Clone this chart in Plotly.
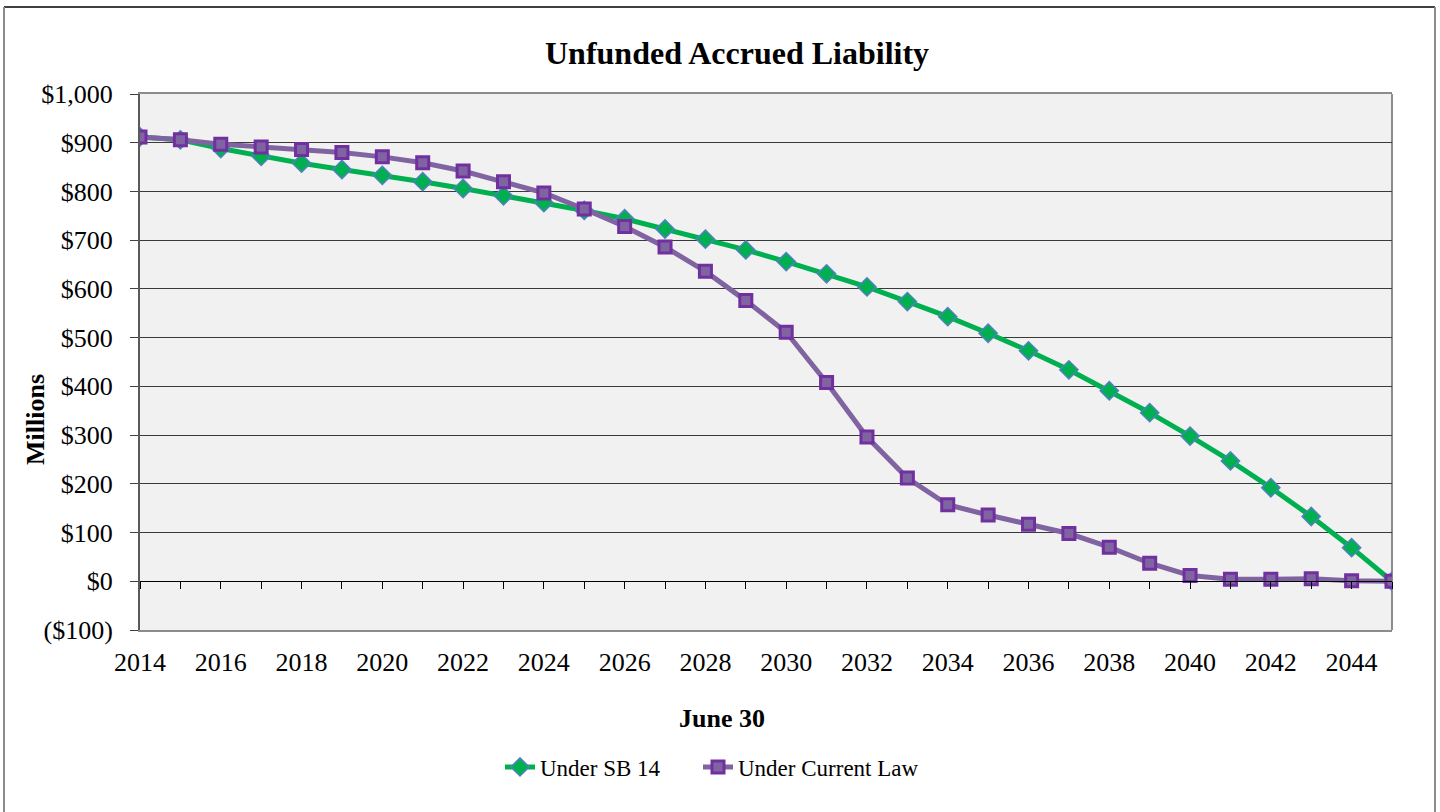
import plotly.graph_objects as go

years = list(range(2014, 2046))
sb14 = [912, 906, 888, 872, 858, 845, 833, 820, 806, 791, 777, 761, 744, 723, 702, 680,
        656, 631, 604, 574, 543, 509, 473, 434, 391, 346, 298, 247, 192, 133, 69, 0]
current_law = [912, 906, 897, 891, 886, 880, 871, 859, 842, 820, 797, 764, 728, 686, 636, 576,
               511, 408, 296, 212, 157, 136, 117, 98, 70, 37, 12, 4, 4, 5, 1, 0]
x_tick_vals = list(range(2014, 2045, 2))
y_tick_vals = [-100, 0, 100, 200, 300, 400, 500, 600, 700, 800, 900, 1000]
y_tick_text = ["($100)", "$0", "$100", "$200", "$300", "$400", "$500", "$600", "$700",
               "$800", "$900", "$1,000"]

FONT = "Liberation Serif, Times New Roman, serif"

L, R, T, B = 140, 1392, 94, 630
W, H = 1440, 812
pw, ph = R - L, B - T

def px(p):
    return (p - L) / pw

def py(q):
    return (B - q) / ph

fig = go.Figure()
fig.add_trace(go.Scatter(
    x=years, y=sb14, name="Under SB 14", mode="lines+markers",
    line=dict(color="#00b050", width=5),
    marker=dict(symbol="diamond", size=14, color="#00b050",
                line=dict(color="#4f81bd", width=1.5)),
    xaxis="x", yaxis="y", legend="legend"))
fig.add_trace(go.Scatter(
    x=years, y=current_law, name="Under Current Law", mode="lines+markers",
    line=dict(color="#8064a2", width=5),
    marker=dict(symbol="square", size=12, color="#8064a2",
                line=dict(color="#7030a0", width=3)),
    xaxis="x2", yaxis="y", legend="legend2"))

ymin, ymax = -100, 1000
zero_pos = (0 - ymin) / (ymax - ymin)

legend_common = dict(orientation="h", yanchor="middle", xanchor="left",
                     font=dict(family=FONT, size=23, color="black"),
                     bgcolor="rgba(0,0,0,0)", itemwidth=30)

fig.update_layout(
    width=W, height=H,
    margin=dict(l=L, r=W - R, t=T, b=H - B, pad=0),
    paper_bgcolor="white", plot_bgcolor="#f1f1f1",
    font=dict(family=FONT, size=26, color="black"),
    showlegend=True,
    legend=dict(x=px(500), y=py(767), **legend_common),
    legend2=dict(x=px(698), y=py(767), **legend_common),
    xaxis=dict(range=[2014, 2045], tickmode="array", tickvals=x_tick_vals,
               ticktext=[str(v) for v in x_tick_vals], ticks="", showgrid=False,
               zeroline=False, showline=True, linecolor="#8c8c8c", linewidth=2,
               mirror=True, ticklabelstandoff=8,
               tickfont=dict(family=FONT, size=26, color="black")),
    xaxis2=dict(matches="x", overlaying="x", anchor="free", position=zero_pos,
                range=[2014, 2045], tickmode="linear", tick0=2014, dtick=1,
                ticks="outside", ticklen=7, tickwidth=1, tickcolor="black",
                showticklabels=False, showgrid=False, zeroline=False,
                showline=True, linecolor="black", linewidth=1),
    yaxis=dict(range=[ymin, ymax], tickmode="array", tickvals=y_tick_vals,
               ticktext=y_tick_text, ticks="outside", ticklen=8, tickwidth=1,
               tickcolor="#404040", showgrid=True, gridcolor="#3a3a3a", gridwidth=1,
               zeroline=False, showline=True, linecolor="#5a5a5a", linewidth=2,
               ticklabelstandoff=12,
               tickfont=dict(family=FONT, size=26, color="black")),
    annotations=[
        dict(text="<b>Unfunded Accrued Liability</b>", xref="paper", yref="paper",
             x=px(737), y=py(53), xanchor="center", yanchor="middle", showarrow=False,
             font=dict(family=FONT, size=32, color="black")),
        dict(text="<b>Millions</b>", xref="paper", yref="paper", x=px(36), y=py(420),
             xanchor="center", yanchor="middle", textangle=-90, showarrow=False,
             font=dict(family=FONT, size=26, color="black")),
        dict(text="<b>June 30</b>", xref="paper", yref="paper", x=px(722), y=py(718),
             xanchor="center", yanchor="middle", showarrow=False,
             font=dict(family=FONT, size=26, color="black")),
    ],
    shapes=[
        dict(type="line", xref="paper", yref="paper", x0=1, x1=1, y0=0, y1=1,
             line=dict(color="#8c8c8c", width=2), layer="below"),
        dict(type="line", xref="paper", yref="paper", x0=px(4), x1=px(1435), y0=py(7), y1=py(7),
             line=dict(color="black", width=1.5)),
        dict(type="line", xref="paper", yref="paper", x0=px(4), x1=px(4), y0=py(7), y1=py(815),
             line=dict(color="#8c8c8c", width=2)),
        dict(type="line", xref="paper", yref="paper", x0=px(1435), x1=px(1435), y0=py(7), y1=py(815),
             line=dict(color="#8c8c8c", width=2)),
    ],
)

fig.write_html("out.html", config={"displayModeBar": False},
               post_script="document.body.style.margin='0';document.body.style.overflow='hidden';")
